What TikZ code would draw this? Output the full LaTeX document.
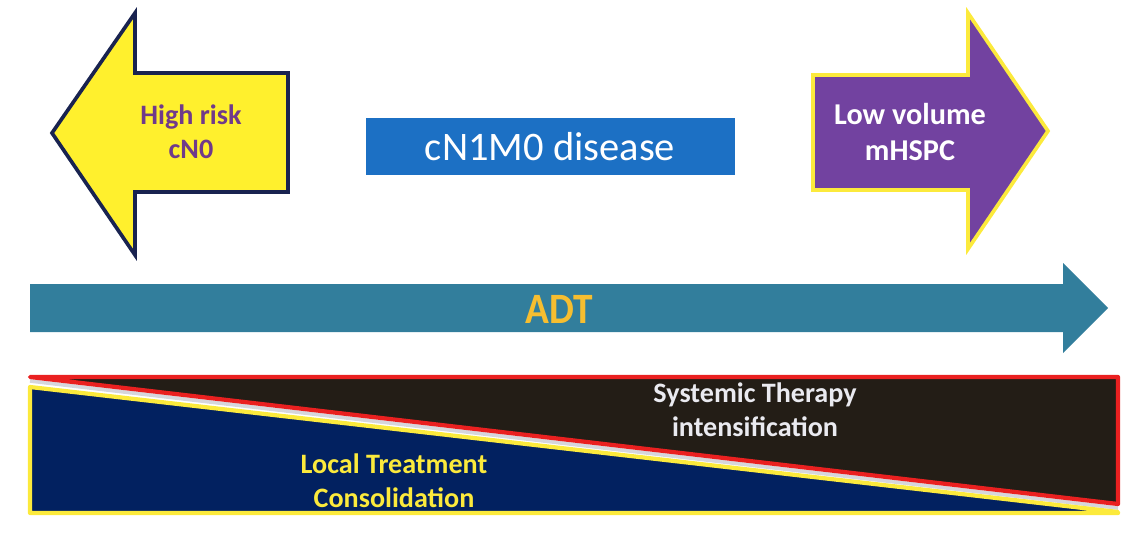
\documentclass[tikz,border=0pt]{standalone}
\usepackage{fontspec}
\setmainfont{Carlito}
\usepackage{xcolor}
\usepackage{tikz}
\usetikzlibrary{positioning,calc}

\definecolor{arrowyellow}{RGB}{255,240,45}
\definecolor{edgenavy}{RGB}{25,35,80}
\definecolor{arrowpurple}{RGB}{114,66,160}
\definecolor{edgeyellow}{RGB}{252,234,60}
\definecolor{riskpurple}{RGB}{112,58,138}
\definecolor{boxblue}{RGB}{28,112,196}
\definecolor{adtteal}{RGB}{50,126,156}
\definecolor{adtgold}{RGB}{246,190,48}
\definecolor{darkfill}{RGB}{35,29,22}
\definecolor{navyfill}{RGB}{2,33,96}
\definecolor{edgered}{RGB}{234,32,32}
\definecolor{gapgrey}{RGB}{214,214,220}
\definecolor{softwhite}{RGB}{234,234,240}

\begin{document}
\begin{tikzpicture}[
    x=0.025cm, y=-0.025cm,
    lbl/.style     = {align=center, font=\bfseries\fontsize{20}{24.5}\selectfont},
    leftarr/.style = {fill=arrowyellow, draw=edgenavy, line width=2.6pt,
                      line join=miter},
    rightarr/.style= {fill=arrowpurple, draw=edgeyellow, line width=2.6pt,
                      line join=miter},
    band/.style    = {line width=3pt, line join=round},
]
\useasboundingbox (0,0) rectangle (1136,538);

%% ── Side arrows ───────────────────────────────────────────────────────────
\draw[leftarr] (288,73) -- (135,73) -- (135,13) -- (52,133)
  -- (135,255) -- (135,192) -- (288,192) -- cycle;
\node[lbl, text=riskpurple] (highrisk) at (191,132) {High risk\\cN0};

\draw[rightarr] (813,75) -- (968,75) -- (968,13) -- (1048,131)
  -- (968,249) -- (968,190) -- (813,190) -- cycle;
\node[lbl, text=white, font=\bfseries\fontsize{21.5}{25}\selectfont]
  (lowvol) at (910,132) {Low volume\\mHSPC};

%% ── Disease box ───────────────────────────────────────────────────────────
\fill[boxblue] (366,118) rectangle (735,175);
\node[text=white, font=\fontsize{28.8}{32}\selectfont] (disease) at (550,147)
  {cN1M0 disease};

%% ── ADT arrow ─────────────────────────────────────────────────────────────
\fill[adtteal] (30,284) -- (1063,284) -- (1063,263) -- (1108,308)
  -- (1063,353) -- (1063,332) -- (30,332) -- cycle;
\node[text=adtgold, font=\bfseries\fontsize{28}{30}\selectfont, yscale=1.1]
  (adt) at (559,309) {ADT};

%% ── Therapy balance ───────────────────────────────────────────────────────
\draw[gapgrey, line width=2.6pt] (30,381) -- (1118,508);
\filldraw[band, fill=navyfill, draw=edgeyellow] (30,387) -- (1118,512)
  -- (1118,513) -- (30,513) -- cycle;
\filldraw[band, fill=darkfill, draw=edgered] (30,377) -- (1118,377)
  -- (1118,504) -- cycle;

\node[lbl, text=softwhite] (systemic) at (755,410)
  {Systemic Therapy\\intensification};
\node[lbl, text=edgeyellow] (local) at (394,481)
  {Local Treatment\\Consolidation};

\end{tikzpicture}
\end{document}
